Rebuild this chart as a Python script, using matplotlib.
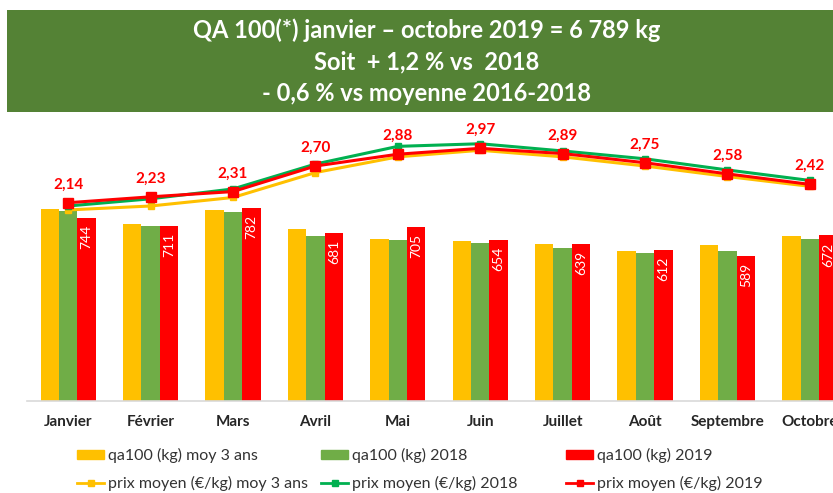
import numpy as np
import matplotlib
matplotlib.use("Agg")
import matplotlib.pyplot as plt
from matplotlib.patches import Rectangle, Patch
from matplotlib.lines import Line2D

plt.rcParams.update({'font.family': ['Lato', 'DejaVu Sans']})

# data
months = ["Janvier", "Février", "Mars", "Avril", "Mai", "Juin",
          "Juillet", "Août", "Septembre", "Octobre"]
qa_moy3 = [779, 718, 775, 699, 656, 649, 637, 607, 634, 670]
qa_2018 = [771, 710, 767, 669, 653, 640, 621, 602, 610, 657]
qa_2019 = [744, 711, 782, 681, 705, 654, 639, 612, 589, 672]

prix_moy3 = [2.03, 2.09, 2.22, 2.60, 2.84, 2.94, 2.84, 2.70, 2.54, 2.39]
prix_2018 = [2.09, 2.20, 2.35, 2.73, 3.00, 3.04, 2.93, 2.81, 2.64, 2.48]
prix_2019 = [2.14, 2.23, 2.31, 2.70, 2.88, 2.97, 2.89, 2.75, 2.58, 2.42]

title_lines = ["QA 100(*) janvier – octobre 2019 = 6 789 kg",
               "Soit  + 1,2 % vs  2018",
               "- 0,6 % vs moyenne 2016-2018"]

c_yel = '#FFC000'
c_grn = '#70AD47'
c_red = '#FF0000'
c_grn_line = '#00B050'

W, H = 833, 493
fig = plt.figure(figsize=(W/100, H/100), dpi=100)

# title banner
fig.patches.append(Rectangle((7/W, 1-112/H), 1, 102/H, transform=fig.transFigure,
                             facecolor='#548235', edgecolor='none', zorder=0))
for t, yy in zip(title_lines, [30, 62, 93.5]):
    fig.text(427/W, 1-yy/H, t, ha='center', va='center', color='white',
             fontsize=17, fontweight='bold')

ax = fig.add_axes([27/W, (H-400.7)/H, 824/W, 270/H])
ax.patch.set_alpha(0)
x = np.arange(len(months))
bw = 0.224
ax.bar(x - bw, qa_moy3, bw, color=c_yel, zorder=2)
ax.bar(x, qa_2018, bw, color=c_grn, zorder=2)
bars = ax.bar(x + bw, qa_2019, bw, color=c_red, zorder=2)
for b, v in zip(bars, qa_2019):
    ax.annotate(str(v), (b.get_x() + b.get_width()/2, v), xytext=(0, -5),
                textcoords='offset points', ha='center', va='top', rotation=90,
                color='white', fontsize=10)

ax.set_xlim(-0.5, 9.5)
ax.set_ylim(0, 1097.6)
ax.set_yticks([])
ax.set_xticks(x)
ax.set_xticklabels(months, fontsize=11, fontweight='bold', color='#262626')
ax.tick_params(axis='x', length=0, pad=10.5)
for s in ['top', 'right', 'left']:
    ax.spines[s].set_visible(False)
ax.spines['bottom'].set_color('#D9D9D9')
ax.spines['bottom'].set_linewidth(1.2)

ax2 = ax.twinx()
ax2.set_ylim(-0.881, 3.239)
ax2.set_yticks([])
for s in ['top', 'right', 'left', 'bottom']:
    ax2.spines[s].set_visible(False)
ax2.plot(x, prix_moy3, color=c_yel, lw=2.2, marker='s', ms=5, zorder=3)
ax2.plot(x, prix_2018, color=c_grn_line, lw=2.2, marker='s', ms=5, zorder=4)
ax2.plot(x, prix_2019, color=c_red, lw=2.2, marker='s', ms=6.5, zorder=5)
for xi, p in zip(x, prix_2019):
    ax2.annotate(f"{p:.2f}".replace('.', ','), (xi, p), xytext=(0, 8),
                 textcoords='offset points', ha='center', va='bottom',
                 color=c_red, fontsize=11, fontweight='bold')

# legend: three columns placed separately
cols = [
    ([Patch(color=c_yel), Line2D([], [], color=c_yel, lw=2, marker='s', ms=4)],
     ["qa100 (kg) moy 3 ans", "prix moyen (€/kg) moy 3 ans"], 77),
    ([Patch(color=c_grn), Line2D([], [], color=c_grn_line, lw=2, marker='s', ms=4)],
     ["qa100 (kg) 2018", "prix moyen (€/kg) 2018"], 321),
    ([Patch(color=c_red), Line2D([], [], color=c_red, lw=2, marker='s', ms=4)],
     ["qa100 (kg) 2019", "prix moyen (€/kg) 2019"], 566),
]
for handles, labels, xl in cols:
    leg = fig.legend(handles, labels, loc='center left',
                     bbox_to_anchor=(xl/W, 1-469.5/H), frameon=False,
                     fontsize=11.5, handlelength=1.7, handleheight=0.55,
                     handletextpad=0.25, labelspacing=0.8, borderpad=0,
                     borderaxespad=0)
    for t in leg.get_texts():
        t.set_color('#333333')

fig.savefig('out.png', dpi=100)
